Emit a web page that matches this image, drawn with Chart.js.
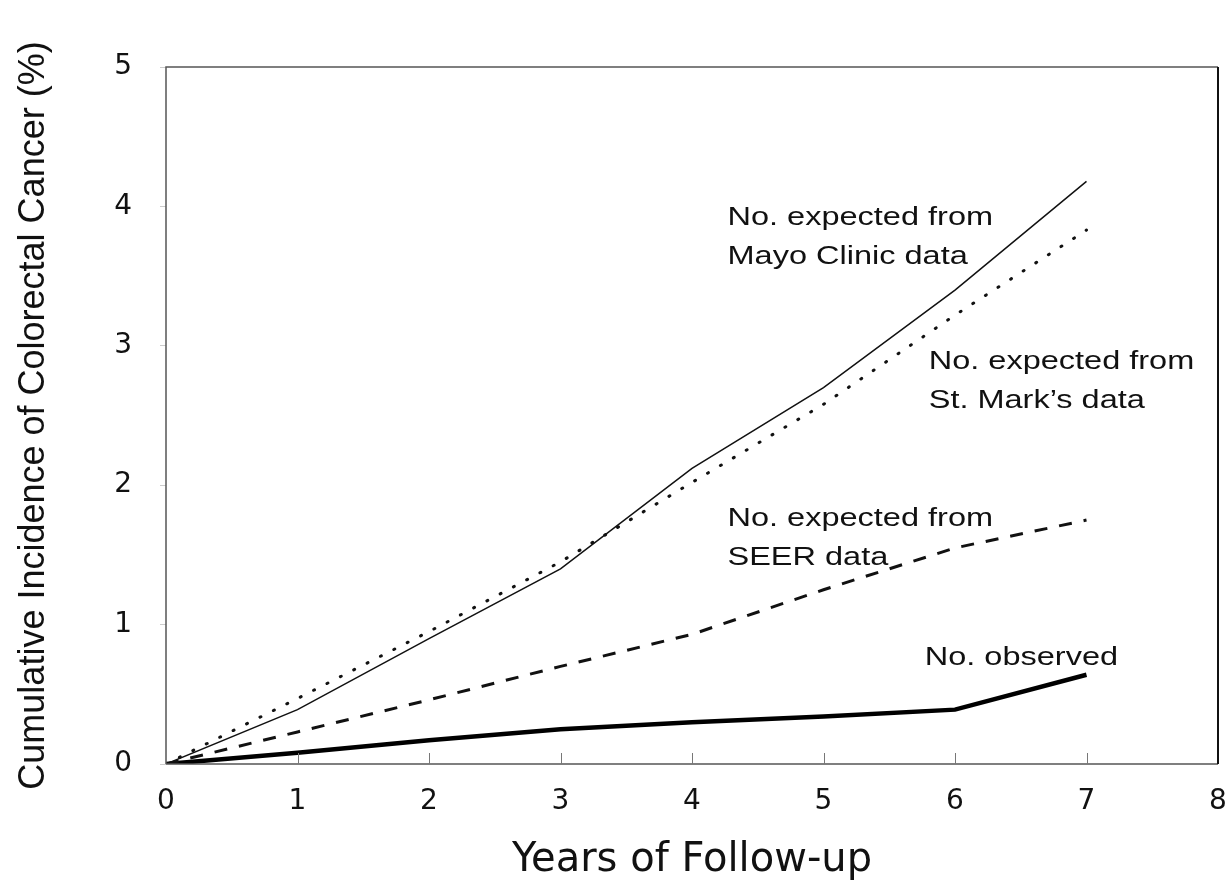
<!DOCTYPE html>
<html>
<head>
<meta charset="utf-8">
<title>Cumulative Incidence of Colorectal Cancer</title>
<script src="https://cdn.jsdelivr.net/npm/chart.js@4/dist/chart.umd.min.js"></script>
<style>
  html, body { margin: 0; padding: 0; background: #fff; }
  #wrap { width: 1227px; height: 889px; }
</style>
</head>
<body>
<div id="wrap"><canvas id="chart"></canvas></div>
<script>
// Data
const years = [0, 1, 2, 3, 4, 5, 6, 7];
const mayoClinic = [0, 0.39, 0.9, 1.4, 2.12, 2.7, 3.4, 4.18];
const stMarks = [0, 0.47, 0.95, 1.45, 2.02, 2.58, 3.22, 3.83];
const seer = [0, 0.23, 0.46, 0.7, 0.93, 1.25, 1.55, 1.75];
const observed = [0, 0.08, 0.17, 0.25, 0.3, 0.34, 0.39, 0.64];

const xTicks = [0, 1, 2, 3, 4, 5, 6, 7, 8];
const yTicks = [0, 1, 2, 3, 4, 5];

// Labels next to the curves (anchored in data units: left edge, first baseline)
const curveLabels = [
  { lines: ["No. expected from", "Mayo Clinic data"], x: 4.27, y: 3.87 },
  { lines: ["No. expected from", "St. Mark\u2019s data"], x: 5.8, y: 2.83 },
  { lines: ["No. expected from", "SEER data"], x: 4.27, y: 1.71 },
  { lines: ["No. observed"], x: 5.77, y: 0.71 },
];

const toPoints = (vals) => years.map((yr, i) => ({ x: yr, y: vals[i] }));

// Frame, inward x ticks and curve labels
const figurePlugin = {
  id: "figure",
  afterDatasetsDraw(chart) {
    const { ctx, chartArea: a, scales } = chart;
    ctx.save();

    // frame
    ctx.strokeStyle = "#555";
    ctx.lineWidth = 1.5;
    ctx.beginPath();
    ctx.moveTo(a.left, a.bottom);
    ctx.lineTo(a.left, a.top);
    ctx.lineTo(a.right, a.top);
    ctx.moveTo(a.left, a.bottom);
    ctx.lineTo(a.right, a.bottom);
    ctx.stroke();
    ctx.strokeStyle = "#111";
    ctx.lineWidth = 2;
    ctx.beginPath();
    ctx.moveTo(a.right, a.top);
    ctx.lineTo(a.right, a.bottom);
    ctx.stroke();

    // small inward ticks on the x axis
    ctx.strokeStyle = "#777";
    ctx.lineWidth = 1;
    xTicks.slice(1, -1).forEach((t) => {
      const px = Math.round(scales.x.getPixelForValue(t)) + 0.5;
      ctx.beginPath();
      ctx.moveTo(px, a.bottom);
      ctx.lineTo(px, a.bottom - 11);
      ctx.stroke();
    });

    // curve labels (the scanned figure is stretched horizontally)
    ctx.fillStyle = "#111";
    ctx.font = "25px 'Liberation Sans', Arial, sans-serif";
    ctx.textBaseline = "alphabetic";
    ctx.textAlign = "left";
    curveLabels.forEach((lab) => {
      const px = scales.x.getPixelForValue(lab.x);
      const py = scales.y.getPixelForValue(lab.y);
      lab.lines.forEach((line, i) => {
        ctx.save();
        ctx.translate(px, py + i * 39);
        ctx.scale(1.3, 1);
        ctx.fillText(line, 0, 0);
        ctx.restore();
      });
    });

    ctx.restore();
  },
};

const ctx = document.getElementById("chart").getContext("2d");
new Chart(ctx, {
  type: "line",
  data: {
    datasets: [
      {
        label: "Mayo Clinic",
        data: toPoints(mayoClinic),
        borderColor: "#111",
        borderWidth: 1.5,
      },
      {
        label: "St. Mark's",
        data: toPoints(stMarks),
        borderColor: "#111",
        borderWidth: 3,
        borderDash: [1, 14],
        borderCapStyle: "round",
      },
      {
        label: "SEER",
        data: toPoints(seer),
        borderColor: "#111",
        borderWidth: 3,
        borderDash: [13, 12],
      },
      {
        label: "Observed",
        data: toPoints(observed),
        borderColor: "#000",
        borderWidth: 4.5,
      },
    ],
  },
  options: {
    responsive: true,
    maintainAspectRatio: false,
    animation: false,
    layout: { padding: { top: 67, right: 9, left: 0, bottom: 0 } },
    elements: {
      point: { radius: 0, hoverRadius: 0 },
      line: { tension: 0, fill: false },
    },
    plugins: {
      legend: { display: false },
      tooltip: { enabled: false },
    },
    scales: {
      x: {
        type: "linear",
        min: 0,
        max: 8,
        afterFit: (scale) => {
          scale.height = 125;
          scale.paddingLeft = 0;
          scale.paddingRight = 0;
        },
        afterBuildTicks: (scale) => { scale.ticks = xTicks.map((v) => ({ value: v })); },
        grid: { display: false },
        border: { display: false },
        ticks: {
          color: "#111",
          padding: 13,
          font: { family: "'DejaVu Sans', sans-serif", size: 28 },
          maxRotation: 0,
        },
        title: {
          display: true,
          text: "Years of Follow-up",
          color: "#111",
          font: { family: "'DejaVu Sans', sans-serif", size: 40 },
          padding: { top: 0, bottom: 4 },
        },
      },
      y: {
        min: 0,
        max: 5,
        afterFit: (scale) => {
          scale.width = 166;
          scale.paddingTop = 0;
          scale.paddingBottom = 0;
        },
        afterBuildTicks: (scale) => { scale.ticks = yTicks.map((v) => ({ value: v })); },
        grid: {
          drawOnChartArea: false,
          tickLength: 6,
          color: "#ccc",
        },
        border: { display: false },
        ticks: {
          color: "#111",
          padding: 28,
          font: { family: "'DejaVu Sans', sans-serif", size: 28 },
        },
        title: {
          display: true,
          text: "Cumulative Incidence of Colorectal Cancer (%)",
          color: "#111",
          font: { family: "'Liberation Sans', Arial, sans-serif", size: 36 },
          padding: { top: 12, bottom: 0 },
        },
      },
    },
  },
  plugins: [figurePlugin],
});
</script>
</body>
</html>
